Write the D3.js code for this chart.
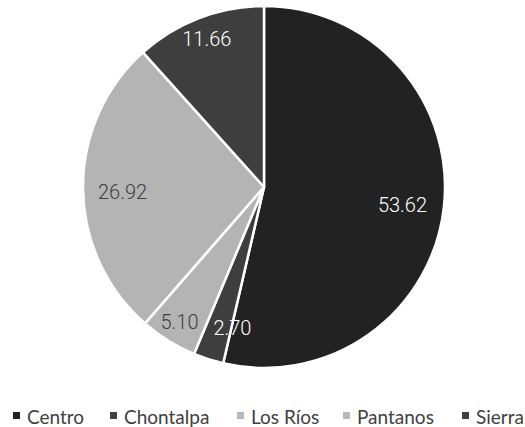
<!DOCTYPE html>
<html>
<head>
<meta charset="utf-8">
<script src="https://cdn.jsdelivr.net/npm/d3@7"></script>
<style>
  html, body { margin: 0; padding: 0; background: #fff; }
  svg { display: block; }
</style>
</head>
<body>
<svg id="chart" width="525" height="427"></svg>
<script>
// ---- data ----
const categories = ["Centro", "Chontalpa", "Los Ríos", "Pantanos", "Sierra"];
const values = [53.62, 2.70, 5.10, 26.92, 11.66];
const valueLabels = ["53.62", "2.70", "5.10", "26.92", "11.66"];

// ---- style ----
const sliceColors = ["#222222", "#3e3e3e", "#b4b4b4", "#b4b4b4", "#3e3e3e"];
const labelColors = ["#ffffff", "#ffffff", "#404040", "#404040", "#ffffff"];
const legendColors = ["#222222", "#404040", "#b8b8b8", "#b8b8b8", "#404040"];
const labelNudge = [[-9, 1], [14, 0], [-6, 9], [7, 4], [-4, -9]];

const W = 525, H = 427;
const cx = 264, cy = 187, R = 181;

const svg = d3.select("#chart");
const g = svg.append("g").attr("transform", `translate(${cx},${cy})`);

const pie = d3.pie().sort(null).value(d => d.value);
const arcs = pie(categories.map((c, i) => ({ cat: c, value: values[i], i })));
const arc = d3.arc().innerRadius(0).outerRadius(R);
const labelArc = d3.arc().innerRadius(R * 0.82).outerRadius(R * 0.82);

g.selectAll("path.slice")
  .data(arcs)
  .join("path")
  .attr("class", "slice")
  .attr("d", arc)
  .attr("fill", d => sliceColors[d.data.i])
  .attr("stroke", "#ffffff")
  .attr("stroke-width", 2.5)
  .attr("stroke-linejoin", "round");

g.selectAll("text.lbl")
  .data(arcs)
  .join("text")
  .attr("class", "lbl")
  .attr("x", d => labelArc.centroid(d)[0] + labelNudge[d.data.i][0])
  .attr("y", d => labelArc.centroid(d)[1] + labelNudge[d.data.i][1])
  .attr("text-anchor", "middle")
  .attr("dominant-baseline", "central")
  .attr("font-family", "Roboto, 'Noto Sans', sans-serif")
  .attr("font-weight", 300)
  .attr("font-size", 20)
  .attr("fill", d => labelColors[d.data.i])
  .text(d => valueLabels[d.data.i]);

// ---- legend ----
const legendX = [13, 110, 237, 343, 462];
const legendY = 416;
const lg = svg.append("g");
const items = lg.selectAll("g.item")
  .data(categories)
  .join("g")
  .attr("class", "item")
  .attr("transform", (d, i) => `translate(${legendX[i]},${legendY})`);
items.append("rect")
  .attr("x", 0).attr("y", -4)
  .attr("width", 7).attr("height", 7)
  .attr("fill", (d, i) => legendColors[i]);
items.append("text")
  .attr("x", 14).attr("y", 0)
  .attr("dominant-baseline", "central")
  .attr("font-family", "Lato, 'Open Sans', sans-serif")
  .attr("font-size", 19)
  .attr("fill", "#404040")
  .text(d => d);
</script>
</body>
</html>
